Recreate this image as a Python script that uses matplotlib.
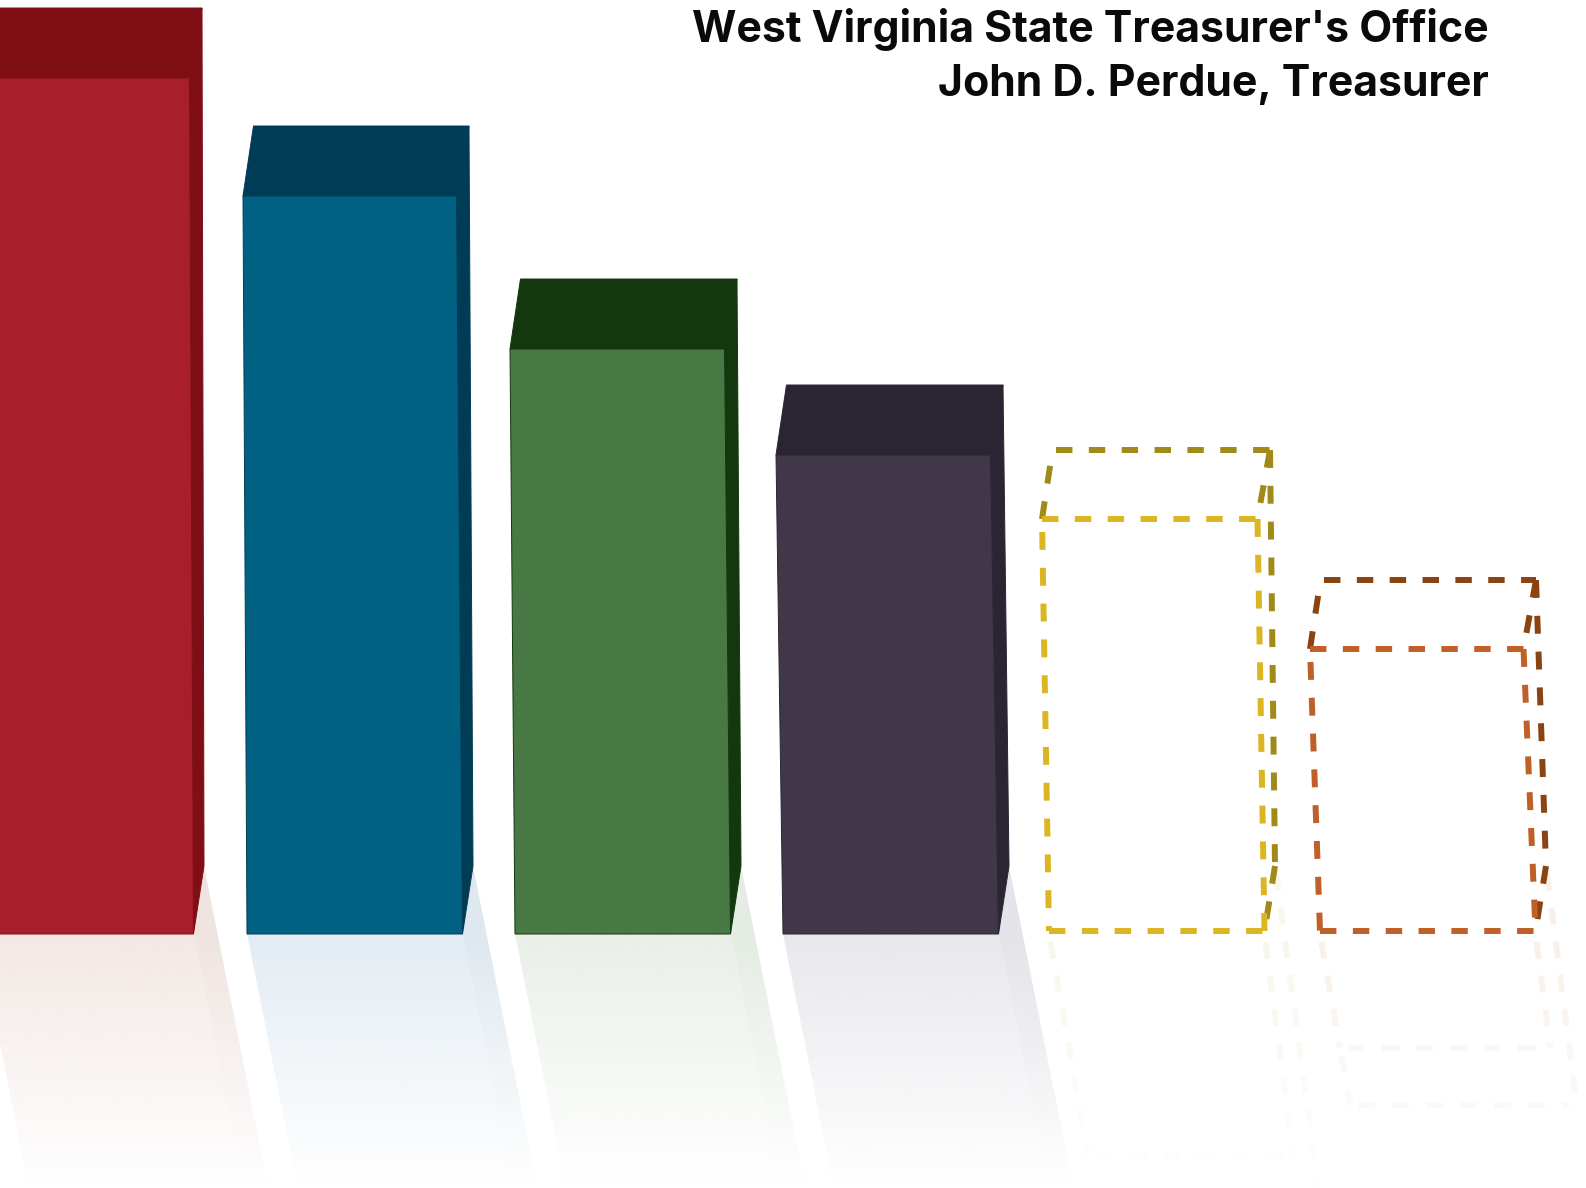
import numpy as np
import matplotlib
matplotlib.use("Agg")
import matplotlib.pyplot as plt
from matplotlib.patches import Polygon
from matplotlib.collections import LineCollection

# bar heights, first four are solid, last two dashed
bar_values = [856, 738, 585, 479, 415, 285]
bar_lefts = [-22, 247, 515, 783, 1049, 1320]
lean_left = [-4, -4, -5, -7, -7, -10]
lean_right = [-4, -6, -6, -8, -7, -12]
face_colors = ["#A91E2B", "#006182", "#487843", "#403849", "#DBB622", "#BF6029"]
dark_colors = ["#7F0E15", "#003C56", "#13380E", "#2A2433", "#A08A1A", "#8A4311"]
glow_colors = ["#F3E8E4", "#E3ECF3", "#E9F0E8", "#E8E8ED", "#F9F6EC", "#F8F1EB"]
glow_side = ["#EFE4E0", "#DFE8EF", "#E4ECE3", "#E3E3E9", "#F9F6EC", "#F8F1EB"]
title_lines = ["West Virginia State Treasurer's Office", "John D. Perdue, Treasurer"]

bar_width = 215.5
depth_x = 10.5
depth_y = 68
n_solid = 4
fade = 250
slope = 0.2

fig = plt.figure(figsize=(15.86, 11.88), dpi=100)
ax = fig.add_axes([0, 0, 1, 1])
ax.axis("off")


def fade_patch(points, color, zorder=1):
    # vertical white fade, clipped to the reflected face
    rgb = matplotlib.colors.to_rgb(color)
    ys = np.linspace(-fade, depth_y, 320)
    img = np.ones((320, 1, 4))
    img[:, :, 0] = rgb[0]
    img[:, :, 1] = rgb[1]
    img[:, :, 2] = rgb[2]
    img[:, 0, 3] = np.clip(1 + ys / fade, 0, 1)
    im = ax.imshow(img, extent=(-50, 1650, -fade, depth_y), origin="lower", aspect="auto", zorder=zorder)
    clip = Polygon(points, closed=True, transform=ax.transData, fill=False, edgecolor="none")
    ax.add_patch(clip)
    im.set_clip_path(clip)


def fade_dashes(p0, p1, color, on=17, off=17):
    # reflected dashes get paler on the way down
    p0 = np.array(p0, dtype=float)
    p1 = np.array(p1, dtype=float)
    length = np.hypot(*(p1 - p0))
    unit = (p1 - p0) / length
    segs = []
    cols = []
    rgb = matplotlib.colors.to_rgb(color)
    pos = 8
    while pos < length:
        a = p0 + unit * pos
        b = p0 + unit * min(pos + on, length)
        segs.append([a, b])
        cols.append(rgb + (float(np.clip(1 + a[1] / fade, 0, 1)),))
        pos += on + off
    ax.add_collection(LineCollection(segs, colors=cols, linewidths=4.3, capstyle="butt", zorder=1))


def dash_line(xs, ys, color, zorder, pattern=(2.75, 2.75), offset=0):
    ax.plot(xs, ys, color=color, lw=4.3, linestyle=(offset, pattern), dash_capstyle="butt", zorder=zorder)


for i, value in enumerate(bar_values):
    x0 = bar_lefts[i]
    x1 = x0 + bar_width
    tx0 = x0 + lean_left[i]
    tx1 = x1 + lean_right[i]
    back_y = value + depth_y + 1
    if i < n_solid:
        # reflection first so the bar sits on top
        drop = fade
        fade_patch([(x0, 0), (x1, 0), (x1 + slope * drop, -drop), (x0 + slope * drop, -drop)], glow_colors[i])
        fade_patch([(x1, 0), (x1 + depth_x, depth_y), (x1 + depth_x + slope * (drop + depth_y), -drop),
                    (x1 + slope * drop, -drop)], glow_side[i])
        top = [(tx0, value), (tx1, value), (tx1 + depth_x + 2, back_y + 1), (tx0 + depth_x, back_y + 1)]
        side = [(tx1, value), (tx1 + depth_x + 2, back_y + 1), (x1 + depth_x, depth_y), (x1, 0)]
        front = [(x0, 0), (x1, 0), (tx1, value), (tx0, value)]
        ax.add_patch(Polygon(top, closed=True, facecolor=dark_colors[i], edgecolor=dark_colors[i], lw=0.7, zorder=3))
        ax.add_patch(Polygon(side, closed=True, facecolor=dark_colors[i], edgecolor=dark_colors[i], lw=0.7, zorder=3))
        ax.add_patch(Polygon(front, closed=True, facecolor=face_colors[i], edgecolor=dark_colors[i], lw=0.7, zorder=4))
    else:
        base = 3
        drop = 221 if i == 4 else 114
        glow = glow_colors[i]
        fade_dashes((x0, 0), (x0 + 0.176 * drop, -drop), glow)
        fade_dashes((x1, 0), (x1 + 0.13 * drop, -drop), glow)
        fade_dashes((x0 + 0.176 * drop, -drop), (x1 + 0.13 * drop, -drop), glow)
        fade_dashes((x1 + depth_x, depth_y), (x1 + depth_x + 0.15 * (drop + 90), -drop - 57), glow)
        if i == 5:
            fade_dashes((x0 + 0.176 * drop, -drop), (x0 + 0.176 * drop + 10, -drop - 57), glow)
            fade_dashes((x0 + 0.176 * drop + 10, -drop - 57), (x1 + 33, -drop - 57), glow)
        # back edges
        dash_line([tx0 + depth_x + 3, tx1 + depth_x + 2], [back_y, back_y], dark_colors[i], 3)
        dash_line([tx0, tx0 + depth_x], [value, back_y], dark_colors[i], 3, (3, 3))
        dash_line([tx1 + depth_x + 2, tx1], [back_y, value], dark_colors[i], 3, (3, 3))
        dash_line([tx1 + depth_x + 2, x1 + depth_x], [back_y, depth_y], dark_colors[i], 3, (3, 3))
        dash_line([x1 + depth_x, x1], [depth_y, base], dark_colors[i], 3, (3, 3))
        # front edges
        dash_line([tx0, tx1], [value, value], face_colors[i], 4)
        dash_line([tx0, x0], [value, base], face_colors[i], 4, (3, 3), 3.83)
        dash_line([tx1, x1], [value, base], face_colors[i], 4, (3, 3))
        dash_line([x0, x1], [base, base], face_colors[i], 4)

ax.set_xlim(0, 1586)
ax.set_ylim(-254, 934)

ax.text(1489, 892, title_lines[0], ha="right", va="baseline", fontsize=30.8, fontweight="bold",
        family="Inter", color="#0A0A0A")
ax.text(1489, 838, title_lines[1], ha="right", va="baseline", fontsize=30.8, fontweight="bold",
        family="Inter", color="#0A0A0A")

fig.savefig("out.png", dpi=100, facecolor="white")
